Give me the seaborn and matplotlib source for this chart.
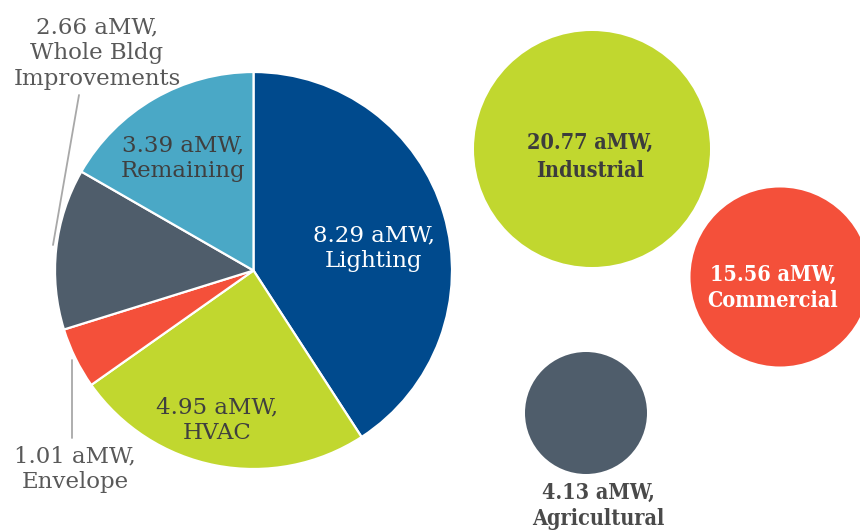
import matplotlib
matplotlib.use("Agg")
import matplotlib.pyplot as plt
import seaborn as sns
import pandas as pd

# ---- data ----
end_uses = ["Lighting", "HVAC", "Envelope", "Whole Bldg\nImprovements", "Remaining"]
end_use_amw = [8.29, 4.95, 1.01, 2.66, 3.39]
sectors = ["Industrial", "Commercial", "Agricultural"]
sector_amw = [20.77, 15.56, 4.13]

# ---- styles / layout (pixel coords, y from top) ----
W, H = 860, 532
pie_colors = ["#004a8d", "#c1d72f", "#f4503a", "#4f5d6b", "#4aa8c6"]
sector_colors = {"Industrial": "#c1d72f", "Commercial": "#f4503a", "Agricultural": "#4f5d6b"}
pie_center = (253.5, 270.5)
pie_radius = 198.5
bubble_xy = {"Industrial": (592, 149), "Commercial": (780, 277), "Agricultural": (586, 413)}
bubble_r = {"Industrial": 118, "Commercial": 89.5, "Agricultural": 61}

sns.set_theme(style="white")
plt.rcParams["font.family"] = ["DejaVu Serif"]

def Y(y):
    return H - y

fig = plt.figure(figsize=(W / 100, H / 100), dpi=100)
ax = fig.add_axes([0, 0, 1, 1])

ax.pie(end_use_amw, colors=pie_colors, startangle=90, counterclock=False,
       center=(pie_center[0], Y(pie_center[1])), radius=pie_radius,
       wedgeprops=dict(edgecolor="white", linewidth=1.6), frame=True)

df = pd.DataFrame({
    "sector": sectors,
    "amw": sector_amw,
    "x": [bubble_xy[s][0] for s in sectors],
    "y": [Y(bubble_xy[s][1]) for s in sectors],
})
size_map = {s: (2 * bubble_r[s] * 0.72) ** 2 for s in sectors}
sns.scatterplot(data=df, x="x", y="y", hue="sector", size="sector",
                palette=sector_colors, sizes=size_map, linewidth=0,
                legend=False, ax=ax, zorder=3)

ax.set_xlim(0, W)
ax.set_ylim(0, H)
ax.set_aspect("auto")
ax.axis("off")

fs = 16.5
fsb = 15.5
gray = "#595959"
dark = "#3f3f3f"
ls = 1.22

def lab(v, name):
    return f"{v:.2f} aMW,\n{name}"

def reg(x, y, s, c):
    ax.text(x, Y(y), s, color=c, fontsize=fs, ha="center", va="center",
            linespacing=ls, zorder=5)

def bold(x, y, s, c, lsp=1.3):
    ax.text(x, Y(y), s, color=c, fontsize=fsb, fontweight="bold",
            fontstretch="condensed", ha="center", va="center",
            linespacing=lsp, zorder=5)

# pie labels
reg(374, 248, lab(end_use_amw[0], end_uses[0]), "white")
reg(217, 420, lab(end_use_amw[1], end_uses[1]), dark)
reg(183, 158, lab(end_use_amw[4], end_uses[4]), dark)
reg(97, 53, lab(end_use_amw[3], end_uses[3]), gray)
reg(75, 469, lab(end_use_amw[2], end_uses[2]), gray)
ax.plot([79, 53], [Y(95), Y(245)], color="#a8a8a8", lw=1.3, zorder=2)
ax.plot([72, 72], [Y(360), Y(438)], color="#a8a8a8", lw=1.3, zorder=2)

# bubble labels
bold(590, 157, lab(sector_amw[0], sectors[0]), "#3c3c3c", 1.35)
bold(773, 288, lab(sector_amw[1], sectors[1]), "white", 1.25)
bold(598, 506, lab(sector_amw[2], sectors[2]), "#4a4a4a", 1.25)

fig.savefig("out.png", dpi=100)
